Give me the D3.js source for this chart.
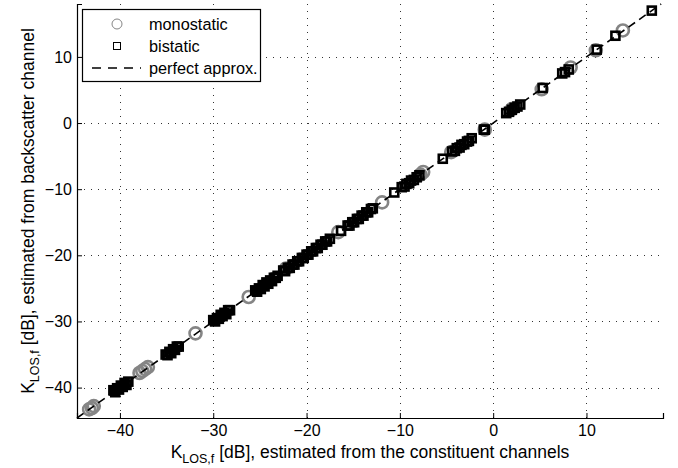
<!DOCTYPE html>
<html>
<head>
<meta charset="utf-8">
<script src="https://cdn.jsdelivr.net/npm/d3@7"></script>
<style>
  body { margin: 0; background: #fff; }
  svg { display: block; font-family: "Liberation Sans", Arial, sans-serif; }
</style>
</head>
<body>
<svg id="chart" width="678" height="468"></svg>
<script>
// values (dB)
const monoX = [-43.3, -43.0, -42.8, -37.9, -37.6, -37.3, -37.0, -31.9, -26.2, -22.2, -16.6,
  -11.9, -7.8, -7.5, -4.5, -0.9, 2.0, 5.2, 8.3, 11.0, 13.9];
const monoY = [-43.3, -43.1, -42.8, -37.8, -37.5, -37.2, -36.9, -31.8, -26.3, -22.0, -16.5,
  -12.0, -7.8, -7.4, -4.4, -1.0, 2.1, 5.1, 8.4, 11.0, 14.0];

const biX = [
  -40.7, -40.5, -40.3, -40.1, -39.9, -39.7, -39.5, -39.3, -39.1,
  -35.1, -34.9, -34.7, -34.5, -34.3, -34.1, -33.9, -33.7,
  -30.0, -29.8, -29.6, -29.4, -29.2, -29.0, -28.8, -28.6, -28.4, -28.2,
  -25.5, -25.3, -25.1, -24.9, -24.7, -24.5, -24.3, -24.1, -23.9, -23.7, -23.5, -23.3, -23.1,
  -22.5, -22.3, -22.0, -21.8, -21.5, -21.3, -21.0, -20.8, -20.5, -20.3, -20.0,
  -19.8, -19.5, -19.3, -19.0, -18.8, -18.5, -18.3, -18.0, -17.8, -17.5,
  -16.3,
  -15.6, -15.4, -15.1, -14.9, -14.6, -14.4, -14.1, -13.9, -13.6, -13.4, -13.1, -12.9,
  -10.6,
  -9.8, -9.5, -9.3, -9.0, -8.8, -8.5, -8.2, -7.9,
  -5.4,
  -4.4, -4.1, -3.9, -3.6, -3.4, -3.1, -2.8, -2.6, -2.3,
  -1.0, -0.9,
  1.4, 1.7, 2.0, 2.3, 2.6, 2.9,
  5.3,
  7.4, 7.7, 8.1,
  11.1, 13.1, 17.0];
const biY = [
  -40.4, -40.7, -40.1, -40.3, -39.7, -39.9, -39.3, -39.6, -39.1,
  -35.0, -35.1, -34.6, -34.8, -34.2, -34.3, -33.8, -33.8,
  -29.8, -30.0, -29.5, -29.6, -29.0, -29.2, -28.7, -28.9, -28.3, -28.3,
  -25.3, -25.5, -25.0, -25.1, -24.5, -24.7, -24.1, -24.3, -23.8, -23.9, -23.4, -23.4, -23.1,
  -22.3, -22.4, -21.9, -21.9, -21.4, -21.4, -20.9, -20.9, -20.4, -20.4, -19.9,
  -19.9, -19.4, -19.4, -18.9, -18.9, -18.4, -18.4, -17.9, -17.9, -17.5,
  -16.3,
  -15.5, -15.5, -15.0, -15.0, -14.5, -14.5, -14.0, -14.0, -13.5, -13.5, -13.0, -12.9,
  -10.5,
  -9.7, -9.6, -9.2, -9.1, -8.7, -8.6, -8.2, -7.9,
  -5.4,
  -4.3, -4.2, -3.8, -3.7, -3.3, -3.2, -2.8, -2.7, -2.3,
  -1.0, -1.0,
  1.5, 1.7, 2.0, 2.3, 2.5, 2.8,
  5.3,
  7.5, 7.7, 8.1,
  11.1, 13.2, 17.0];

const xTicks = [-40, -30, -20, -10, 0, 10];
const yTicks = [-40, -30, -20, -10, 0, 10];
const xDomain = [-44.6, 18.2];
const yDomain = [-44.6, 18.0];
const legendLabels = ['monostatic', 'bistatic', 'perfect approx.'];

const width = 678;
const height = 468;
const margin = { top: 4, right: 15, bottom: 50, left: 77 };

const svg = d3.select('#chart');

const x = d3.scaleLinear().domain(xDomain).range([margin.left, width - margin.right]);
const y = d3.scaleLinear().domain(yDomain).range([height - margin.bottom, margin.top]);

const fmt = d => (d < 0 ? '\u2212' + Math.abs(d) : String(d));

// grid (dotted)
const grid = svg.append('g')
  .attr('stroke', '#333')
  .attr('stroke-width', 1)
  .attr('stroke-dasharray', '1,6');
grid.selectAll('line.gx')
  .data(xTicks)
  .enter()
  .append('line')
  .attr('x1', d => Math.round(x(d)) + 0.5)
  .attr('x2', d => Math.round(x(d)) + 0.5)
  .attr('y1', y.range()[0])
  .attr('y2', y.range()[1]);
grid.selectAll('line.gy')
  .data(yTicks)
  .enter()
  .append('line')
  .attr('y1', d => Math.round(y(d)) + 0.5)
  .attr('y2', d => Math.round(y(d)) + 0.5)
  .attr('x1', x.range()[0])
  .attr('x2', x.range()[1]);

// axes, ticks pointing inward
const xAxis = svg.append('g')
  .attr('transform', `translate(0,${y.range()[0]})`)
  .call(d3.axisBottom(x).tickValues(xTicks).tickSize(-5).tickPadding(7).tickFormat(fmt));
const yAxis = svg.append('g')
  .attr('transform', `translate(${x.range()[0]},0)`)
  .call(d3.axisLeft(y).tickValues(yTicks).tickSize(-5).tickPadding(5).tickFormat(fmt));

[xAxis, yAxis].forEach((ax) => {
  ax.select('.domain').attr('stroke', '#000').attr('stroke-width', 1.2);
  ax.selectAll('.tick line').attr('stroke', '#000');
  ax.selectAll('.tick text')
    .attr('fill', '#000')
    .style('font-size', '16px')
    .style('font-family', '"Liberation Sans", Arial, sans-serif');
});

// monostatic circles
svg.append('g')
  .selectAll('circle')
  .data(monoX)
  .enter()
  .append('circle')
  .attr('cx', d => x(d))
  .attr('cy', (d, i) => y(monoY[i]))
  .attr('r', 6)
  .attr('fill', 'none')
  .attr('stroke', '#858585')
  .attr('stroke-width', 2.6);

// bistatic squares
const sq = 8;
svg.append('g')
  .selectAll('rect')
  .data(biX)
  .enter()
  .append('rect')
  .attr('x', d => x(d) - sq / 2)
  .attr('y', (d, i) => y(biY[i]) - sq / 2)
  .attr('width', sq)
  .attr('height', sq)
  .attr('fill', 'none')
  .attr('stroke', '#000')
  .attr('stroke-width', 2.6);

// perfect approximation line
const lineLo = Math.max(xDomain[0], yDomain[0]);
const lineHi = Math.min(xDomain[1], yDomain[1]);
svg.append('line')
  .attr('x1', x(lineLo))
  .attr('y1', y(lineLo))
  .attr('x2', x(lineHi))
  .attr('y2', y(lineHi))
  .attr('stroke', '#000')
  .attr('stroke-width', 1.6)
  .attr('stroke-dasharray', '8,5');

// legend
const legend = svg.append('g');
legend.append('rect')
  .attr('x', 82.5)
  .attr('y', 9.5)
  .attr('width', 178)
  .attr('height', 72)
  .attr('fill', '#fff')
  .attr('stroke', '#000')
  .attr('stroke-width', 1.2);
const rowY = [24, 46, 68];
legend.append('circle')
  .attr('cx', 117)
  .attr('cy', rowY[0])
  .attr('r', 5)
  .attr('fill', 'none')
  .attr('stroke', '#858585')
  .attr('stroke-width', 1);
legend.append('rect')
  .attr('x', 113.5)
  .attr('y', rowY[1] - 3.5)
  .attr('width', 7)
  .attr('height', 7)
  .attr('fill', 'none')
  .attr('stroke', '#000')
  .attr('stroke-width', 1);
legend.append('line')
  .attr('x1', 92)
  .attr('x2', 141)
  .attr('y1', rowY[2])
  .attr('y2', rowY[2])
  .attr('stroke', '#000')
  .attr('stroke-width', 1.5)
  .attr('stroke-dasharray', '9,7');
legend.selectAll('text')
  .data(legendLabels)
  .enter()
  .append('text')
  .attr('x', 149)
  .attr('y', (d, i) => rowY[i] + 5.5)
  .style('font-size', '16.3px')
  .text(d => d);

// axis labels with subscript
function kLabel(sel, rest) {
  sel.append('tspan').text('K');
  sel.append('tspan').attr('dy', 5).style('font-size', '12.5px').text('LOS,f');
  sel.append('tspan').attr('dy', -5).text(rest);
}

svg.append('text')
  .attr('x', (x.range()[0] + x.range()[1]) / 2)
  .attr('y', 458)
  .attr('text-anchor', 'middle')
  .style('font-size', '17.5px')
  .call(kLabel, ' [dB], estimated from the constituent channels');

svg.append('text')
  .attr('transform', `translate(34,${(y.range()[0] + y.range()[1]) / 2}) rotate(-90)`)
  .attr('text-anchor', 'middle')
  .style('font-size', '17.5px')
  .call(kLabel, ' [dB], estimated from backscatter channel');
</script>
</body>
</html>
